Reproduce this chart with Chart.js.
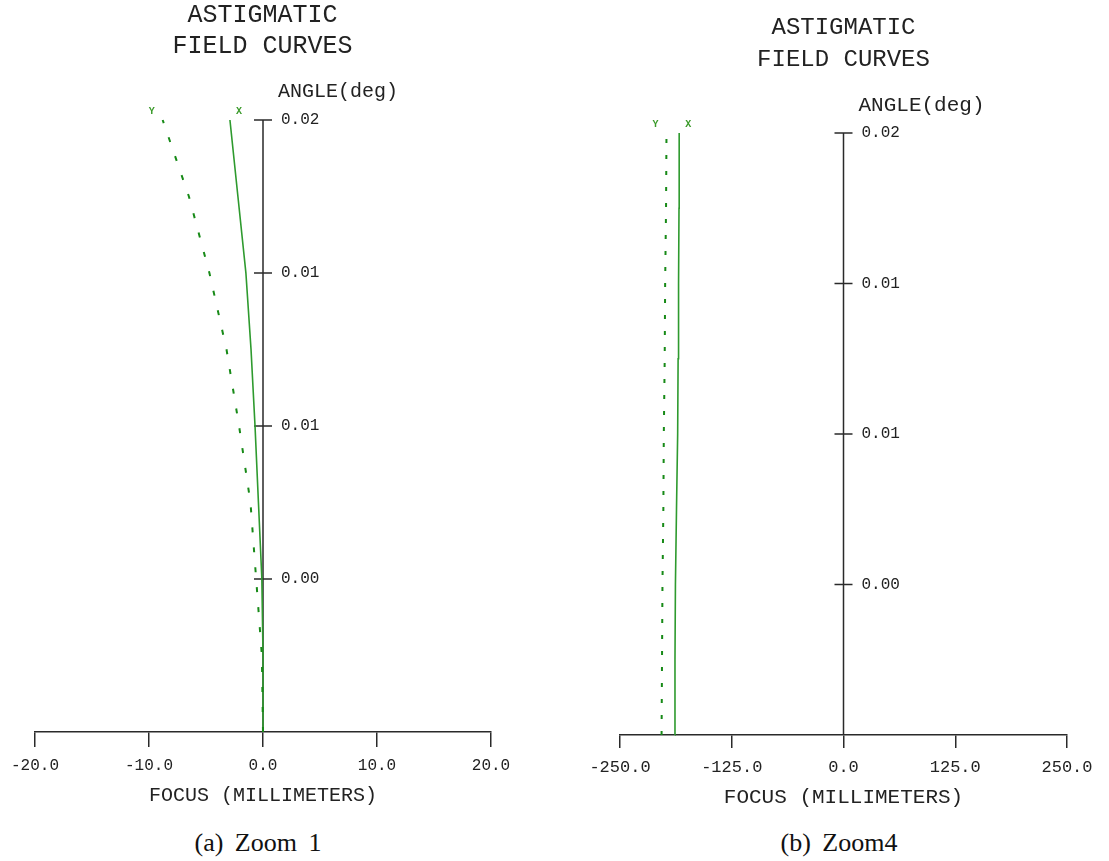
<!DOCTYPE html>
<html>
<head>
<meta charset="utf-8">
<title>Astigmatic field curves</title>
<script src="https://cdn.jsdelivr.net/npm/chart.js@4.4.1/dist/chart.umd.min.js"></script>
<style>
  body { margin: 0; background: #fff; width: 1109px; height: 861px; position: relative; overflow: hidden; }
  canvas { position: absolute; top: 0; }
  #zoom1 { left: 0; }
  #zoom4 { left: 578px; }
  .caption {
    position: absolute; top: 828px; transform: translateX(-50%); white-space: nowrap;
    font-family: "Liberation Serif", "DejaVu Serif", serif; font-size: 26px; word-spacing: 5px; color: #111;
  }
</style>
</head>
<body>
<canvas id="zoom1" width="530" height="820"></canvas>
<canvas id="zoom4" width="531" height="820"></canvas>
<div class="caption" style="left:258px">(a) Zoom 1</div>
<div class="caption" style="left:839px">(b) Zoom4</div>
<script>
// relative field height (0 = on axis, 1 = full field)
const fieldFrac = [0, 0.125, 0.25, 0.375, 0.5, 0.625, 0.75, 0.875, 1.0];
const angleTickPos = [0.25, 0.5, 0.75, 1.0];
const angleTickLabels = ["0.00", "0.01", "0.01", "0.02"];

// zoom 1 focus shifts (mm)
const zoom1Tangential = [0, -0.1, -0.6, -1.1, -2.1, -3.2, -4.7, -6.5, -8.8];
const zoom1Sagittal = [0, 0, -0.1, -0.4, -0.7, -1.05, -1.5, -2.2, -2.9];
const zoom1Ticks = [-20, -10, 0, 10, 20];

// zoom 4 focus shifts (mm)
const zoom4Tangential = [-203.5, -203, -202.5, -201.5, -201, -200, -199.5, -198.5, -198];
const zoom4Sagittal = [-188.6, -188.5, -188, -186.8, -185.5, -185, -184.5, -184, -183.8];
const zoom4Ticks = [-250, -125, 0, 125, 250];

const MONO = "'Liberation Mono', 'DejaVu Sans Mono', monospace";
const INK = "#222";

// ========== ANGLE AXIS + CURVE TAGS ========== //
const angleAxis = {
    id: "angleAxis",
    beforeDatasetsDraw(chart, args, opts) {
        const { ctx, scales: { x, y } } = chart;
        const x0 = x.getPixelForValue(0);
        ctx.save();
        ctx.strokeStyle = "#2a2a2a";
        ctx.lineWidth = 1.5;
        ctx.beginPath();
        ctx.moveTo(x0, y.getPixelForValue(0));
        ctx.lineTo(x0, y.getPixelForValue(1));
        angleTickPos.forEach(v => {
            const py = y.getPixelForValue(v);
            ctx.moveTo(x0 - 9, py);
            ctx.lineTo(x0 + 9, py);
        });
        ctx.stroke();

        ctx.fillStyle = INK;
        ctx.textBaseline = "middle";
        ctx.font = opts.tickSize + "px " + MONO;
        angleTickPos.forEach((v, i) => {
            ctx.fillText(angleTickLabels[i], x0 + 18, y.getPixelForValue(v));
        });
        ctx.font = opts.titleSize + "px " + MONO;
        ctx.fillText("ANGLE(deg)", x0 + 15, y.getPixelForValue(1) - 28);
        ctx.restore();
    },
    afterDatasetsDraw(chart) {
        const { ctx } = chart;
        ctx.save();
        ctx.font = "bold 10px " + MONO;
        ctx.fillStyle = "#3a9a2a";
        ctx.textAlign = "center";
        ctx.textBaseline = "middle";
        chart.data.datasets.forEach((ds, i) => {
            const pts = chart.getDatasetMeta(i).data;
            const top = pts[pts.length - 1];
            ctx.fillText(ds.label, top.x + ds.tagOffset, top.y - 9);
        });
        ctx.restore();
    }
};

function makeChart(id, cfg) {
    return new Chart(document.getElementById(id), {
        type: "scatter",
        data: {
            datasets: [{
                label: "Y",
                data: fieldFrac.map((f, i) => ({ x: cfg.tangential[i], y: f })),
                showLine: true,
                borderColor: "#178a17",
                borderWidth: 2,
                borderDash: cfg.dash,
                pointRadius: 0,
                clip: false,
                tagOffset: -11
            }, {
                label: "X",
                data: fieldFrac.map((f, i) => ({ x: cfg.sagittal[i], y: f })),
                showLine: true,
                borderColor: "#2e9a2e",
                borderWidth: 1.6,
                pointRadius: 0,
                clip: false,
                tagOffset: 9
            }]
        },
        options: {
            responsive: false,
            animation: false,
            layout: { padding: cfg.padding },
            plugins: {
                legend: { display: false },
                tooltip: { enabled: false },
                title: {
                    display: true,
                    text: ["ASTIGMATIC", "FIELD CURVES"],
                    color: INK,
                    font: { family: MONO, size: cfg.titleSize, weight: "normal", lineHeight: cfg.titleLine / cfg.titleSize },
                    padding: cfg.titlePad
                },
                angleAxis: { tickSize: 16, titleSize: cfg.angleSize }
            },
            scales: {
                x: {
                    type: "linear",
                    min: cfg.ticks[0],
                    max: cfg.ticks[cfg.ticks.length - 1],
                    afterBuildTicks: s => { s.ticks = cfg.ticks.map(v => ({ value: v })); },
                    border: { color: "#2a2a2a", width: 1.5 },
                    grid: { drawOnChartArea: false, color: "#2a2a2a", lineWidth: 1.5, tickLength: cfg.tickLen },
                    ticks: {
                        color: INK,
                        padding: 11,
                        autoSkip: false,
                        maxRotation: 0,
                        font: { family: MONO, size: cfg.xTickSize, lineHeight: 1 },
                        callback: v => v.toFixed(1)
                    },
                    title: {
                        display: true,
                        text: "FOCUS (MILLIMETERS)",
                        color: INK,
                        font: { family: MONO, size: cfg.xTitleSize, lineHeight: 1 },
                        padding: { top: cfg.xTitleTop, bottom: 4 }
                    }
                },
                y: { type: "linear", min: 0, max: 1, display: false }
            }
        },
        plugins: [angleAxis]
    });
}

makeChart("zoom1", {
    tangential: zoom1Tangential,
    sagittal: zoom1Sagittal,
    ticks: zoom1Ticks,
    dash: [5, 15],
    padding: { left: 34, right: 39, top: 0, bottom: 10 },
    titleSize: 25, titleLine: 31, titlePad: { top: 0, bottom: 58 },
    angleSize: 20,
    tickLen: 15, xTickSize: 16, xTitleSize: 20, xTitleTop: 1
});

makeChart("zoom4", {
    tangential: zoom4Tangential,
    sagittal: zoom4Sagittal,
    ticks: zoom4Ticks,
    dash: [4, 12],
    padding: { left: 42, right: 42, top: 0, bottom: 8 },
    titleSize: 24, titleLine: 32, titlePad: { top: 12, bottom: 57 },
    angleSize: 21,
    tickLen: 13, xTickSize: 17, xTitleSize: 21, xTitleTop: 0
});
</script>
</body>
</html>
